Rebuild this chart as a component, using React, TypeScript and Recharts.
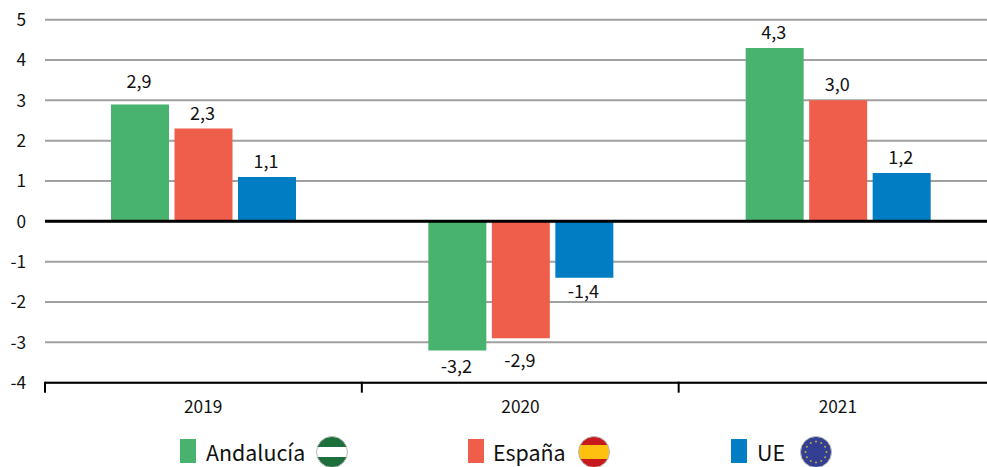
import React from "react";
import { BarChart, Bar, XAxis, YAxis, CartesianGrid, ReferenceLine, LabelList, Legend } from "recharts";

const FONT = '"Noto Sans CJK JP", "Noto Sans", sans-serif';
const years = ["2019", "2020", "2021"];
const andalucia = [2.9, -3.2, 4.3];
const espana = [2.3, -2.9, 3.0];
const ue = [1.1, -1.4, 1.2];
const yTicks = [-4, -3, -2, -1, 0, 1, 2, 3, 4, 5];
const data = years.map((year, i) => ({ year, andalucia: andalucia[i], espana: espana[i], ue: ue[i] }));

const GREEN = "#48b26f";
const RED = "#ee5e4a";
const BLUE = "#007dc3";
const PLOT_LEFT = 45;
const PLOT_RIGHT = 997;
const BAND = (PLOT_RIGHT - PLOT_LEFT) / years.length;

const fmt = (v: number) => v.toFixed(1).replace(".", ",");

const labelShift: Record<string, number> = { "2.9": -7, "-2.9": 8.5, "-3.2": 2.5 };

function BarLabel(props: any) {
  const { x, y, width, height, value } = props;
  const neg = value < 0;
  const edge = neg ? Math.max(y, y + height) : Math.min(y, y + height);
  const shift = labelShift[String(value)] ?? 0;
  return (
    <text x={x + width / 2 - 1} y={edge + (neg ? 12 : -17) + shift} textAnchor="middle" dominantBaseline="central"
      fontFamily={FONT} fontSize={18} fill="#111">
      {fmt(value)}
    </text>
  );
}

function YearTick(props: any) {
  const { x, y, payload, index } = props;
  const edge = x - BAND / 2 - index * 0.5;
  return (
    <g>
      <line x1={edge} x2={edge} y1={y - 9} y2={y + 2} stroke="#000" strokeWidth={2} />
      <text x={x - 0.5} y={y + 15} textAnchor="middle" dominantBaseline="central" fontFamily={FONT} fontSize={17.3} fill="#111">
        {payload.value}
      </text>
    </g>
  );
}

function AndaluciaFlag() {
  return (
    <g>
      <clipPath id="fa"><circle cx="16" cy="16" r="15.5" /></clipPath>
      <g clipPath="url(#fa)">
        <rect width="32" height="11" fill="#1d6f3c" />
        <rect y="11" width="32" height="10" fill="#fff" />
        <rect y="21" width="32" height="11" fill="#1d6f3c" />
      </g>
      <circle cx="16" cy="16" r="15.5" fill="none" stroke="#bbb" />
    </g>
  );
}
function EspanaFlag() {
  return (
    <g>
      <clipPath id="fe"><circle cx="16" cy="16" r="15.5" /></clipPath>
      <g clipPath="url(#fe)">
        <rect width="32" height="9" fill="#c8191c" />
        <rect y="9" width="32" height="14" fill="#fec10f" />
        <rect y="23" width="32" height="9" fill="#c8191c" />
      </g>
      <circle cx="16" cy="16" r="15.5" fill="none" stroke="#bbb" />
    </g>
  );
}
const starAngles = [0, 30, 60, 90, 120, 150, 180, 210, 240, 270, 300, 330];
function EuFlag() {
  return (
    <g>
      <circle cx="16" cy="16" r="15.5" fill="#333f92" stroke="#bbb" />
      {starAngles.map((a) => (
        <circle key={a} cx={16 + 10.5 * Math.cos((a * Math.PI) / 180)} cy={16 + 10.5 * Math.sin((a * Math.PI) / 180)} r="1" fill="#c9a93a" />
      ))}
    </g>
  );
}

const legendItems = [
  { label: "Andalucía", color: GREEN, flag: <AndaluciaFlag />, swatch: 180, text: 206, flagX: 316 },
  { label: "España", color: RED, flag: <EspanaFlag />, swatch: 468, text: 493, flagX: 578 },
  { label: "UE", color: BLUE, flag: <EuFlag />, swatch: 731, text: 757, flagX: 800 },
];

function ChartLegend() {
  return (
    <svg width={987} height={44} style={{ display: "block" }}>
      {legendItems.map((it) => (
        <g key={it.label}>
          <rect x={it.swatch} y={16} width={16} height={24} fill={it.color} />
          <text x={it.text} y={28} dominantBaseline="central" fontFamily={FONT} fontSize={21.4} fill="#111">{it.label}</text>
          <g transform={`translate(${it.flagX},13)`}>{it.flag}</g>
        </g>
      ))}
    </svg>
  );
}

export default function App() {
  return (
    <div style={{ position: "absolute", left: 0, top: 0, width: 987, height: 467, overflow: "hidden", background: "#fff" }}>
      <BarChart width={1000} height={467} data={data} barSize={58} barGap={5.5} barCategoryGap={66}
        margin={{ top: 19.7, right: 3, bottom: 0, left: 0 }}>
        <CartesianGrid horizontal vertical={false} stroke="#a0a0a0" strokeWidth={2} />
        <XAxis dataKey="year" height={40.3} axisLine={{ stroke: "#000", strokeWidth: 2 }} tickLine={false} tick={<YearTick />} interval={0} />
        <YAxis width={45} domain={[-4, 5]} ticks={yTicks} axisLine={false} tickLine={false} tickMargin={13} interval={0}
          tick={{ fontFamily: FONT, fontSize: 17.3, fill: "#111" }} />
        <Legend verticalAlign="bottom" height={44} content={<ChartLegend />} wrapperStyle={{ left: 0, width: 987 }} />
        <Bar dataKey="andalucia" name="Andalucía" fill={GREEN} isAnimationActive={false}>
          <LabelList dataKey="andalucia" content={<BarLabel />} />
        </Bar>
        <Bar dataKey="espana" name="España" fill={RED} isAnimationActive={false}>
          <LabelList dataKey="espana" content={<BarLabel />} />
        </Bar>
        <Bar dataKey="ue" name="UE" fill={BLUE} isAnimationActive={false}>
          <LabelList dataKey="ue" content={<BarLabel />} />
        </Bar>
        <ReferenceLine y={0} stroke="#000" strokeWidth={3} />
      </BarChart>
    </div>
  );
}
